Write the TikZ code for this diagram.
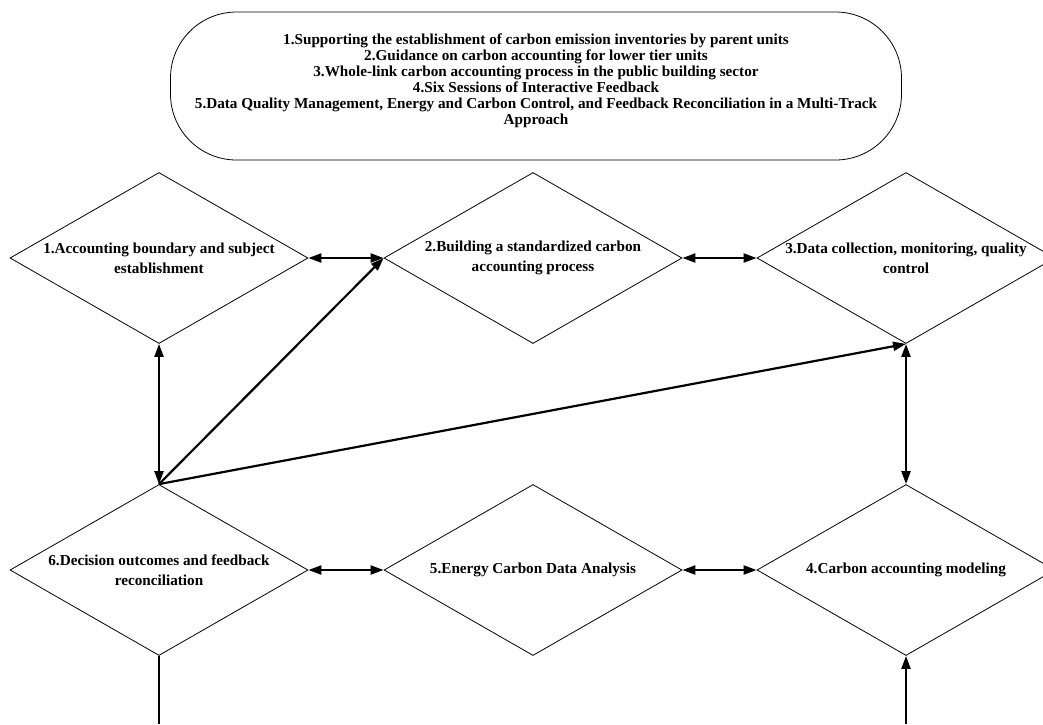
\documentclass[tikz,border=0pt]{standalone}
\usepackage{fontspec}
\setmainfont{Liberation Serif}
\usetikzlibrary{shapes.geometric,arrows.meta}

\begin{document}
\begin{tikzpicture}[x=1pt,y=-1pt,
    stage/.style={diamond,draw,line width=0.8pt,inner sep=0pt,minimum width=298pt,minimum height=171pt},
    stagetext/.style={align=center,font=\fontsize{15.2}{20}\selectfont\bfseries},
    link/.style={line width=2.2pt,{Triangle[length=13pt,width=9pt]}-{Triangle[length=13pt,width=9pt]}},
    push/.style={line width=2.2pt,-{Triangle[length=13pt,width=9pt]}},
    feed/.style={line width=2.2pt}]
    \useasboundingbox (0,0) rectangle (1043,724);

    % overview box
    \node[draw,line width=0.8pt,rounded corners=66pt,minimum width=731pt,minimum height=148pt,
          label={[align=center,yshift=5pt,font=\fontsize{15.2}{16}\selectfont\bfseries]center:%
         1.Supporting the establishment of carbon emission inventories by parent units\\
         2.Guidance on carbon accounting for lower tier units\\
         3.Whole-link carbon accounting process in the public building sector\\
         4.Six Sessions of Interactive Feedback\\
         5.Data Quality Management, Energy and Carbon Control, and Feedback Reconciliation in a Multi-Track\\
         Approach}] (goals) at (536,86) {};

    % six stages
    \node[stage,label={[stagetext]center:1.Accounting boundary and subject\\establishment}] (s1) at (159,258) {};
    \node[stage,label={[stagetext]center:2.Building a standardized carbon\\accounting process}] (s2) at (533,258) {};
    \node[stage,label={[stagetext]center:3.Data collection, monitoring, quality\\control}] (s3) at (906,258) {};
    \node[stage,label={[stagetext]center:4.Carbon accounting modeling}] (s4) at (906,570) {};
    \node[stage,label={[stagetext]center:5.Energy Carbon Data Analysis}] (s5) at (533,570) {};
    \node[stage,label={[stagetext]center:6.Decision outcomes and feedback\\reconciliation}] (s6) at (159,570) {};

    \coordinate (out6) at (159,724);
    \coordinate (in4) at (906,724);

    \draw[link] (s1.east) -- (s2.west);
    \draw[link] (s2.east) -- (s3.west);
    \draw[link] (s3.south) -- (s4.north);
    \draw[link] (s5.east) -- (s4.west);
    \draw[link] (s6.east) -- (s5.west);
    \draw[link] (s6.north) -- (s1.south);
    \draw[push] (s6.north) -- (s2.west);
    \draw[push] (s6.north) -- (s3.south);
    \draw[feed] (s6.south) -- (out6);
    \draw[push] (in4) -- (s4.south);
\end{tikzpicture}
\end{document}
